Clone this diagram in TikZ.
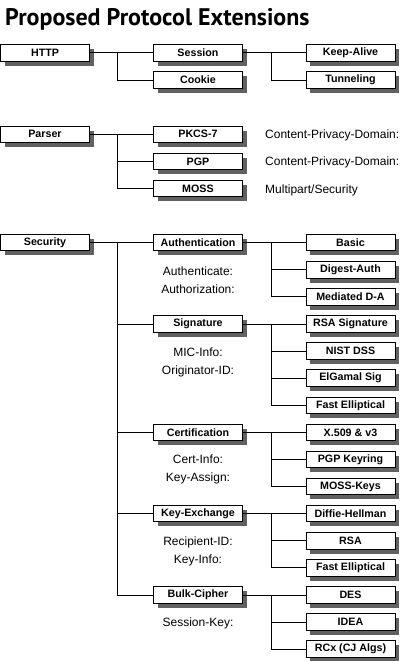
\documentclass[tikz,border=0pt]{standalone}
\usepackage{fontspec}
\setmainfont{Liberation Sans}
\newfontfamily\titlefont{PT Sans}
\usetikzlibrary{shadows}
\tikzset{
  box/.style={draw=black, fill=white, line width=1pt, minimum width=89pt,
    minimum height=16.5pt, inner sep=0pt,
    font=\bfseries\fontsize{10.7}{12}\selectfont,
    drop shadow={shadow xshift=4pt, shadow yshift=-4.5pt, fill=black!62, opacity=1}},
  note/.style={inner sep=0pt, font=\fontsize{12}{14}\selectfont},
  link/.style={line width=1pt},
}
\begin{document}
\begin{tikzpicture}[x=1pt,y=-1pt]
\useasboundingbox (0,0) rectangle (405,661);
\node[anchor=base west, inner sep=0pt, font=\titlefont\bfseries\fontsize{24}{29}\selectfont] (title) at (5,25.3) {Proposed Protocol Extensions};

% HTTP group
\node[box] (http) at (45,53) {HTTP};
\node[box] (session) at (198,53) {Session};
\node[box] (cookie) at (198,80.1) {Cookie};
\node[box] (keepalive) at (350.5,53) {Keep-Alive};
\node[box] (tunneling) at (350.5,80.1) {Tunneling};
\coordinate (bh) at (117,53);
\coordinate (bs) at (271,53);
\draw[link] (http.east) -- (session.west);
\draw[link] (bh) |- (cookie.west);
\draw[link] (session.east) -- (keepalive.west);
\draw[link] (bs) |- (tunneling.west);

% Parser group
\node[box] (parser) at (45,134.3) {Parser};
\node[box] (pkcs) at (198,134.3) {PKCS-7};
\node[box] (pgp) at (198,161.4) {PGP};
\node[box] (moss) at (198,188.5) {MOSS};
\coordinate (bp) at (117,134.3);
\draw[link] (parser.east) -- (pkcs.west);
\draw[link] (bp) |- (pgp.west);
\draw[link] (bp) |- (moss.west);
\node[note, anchor=base west] (cpd1) at (265,138.8) {Content-Privacy-Domain:};
\node[note, anchor=base west] (cpd2) at (265,165.9) {Content-Privacy-Domain:};
\node[note, anchor=base west] (mps) at (265,193) {Multipart/Security};

% Security group
\node[box] (security) at (45,242.7) {Security};
\node[box] (auth) at (198,242.7) {Authentication};
\node[box] (sig) at (198,324) {Signature};
\node[box] (cert) at (198,432.4) {Certification};
\node[box] (kex) at (198,513.7) {Key-Exchange};
\node[box] (bulk) at (198,595) {Bulk-Cipher};
\coordinate (bsec) at (117,242.7);
\draw[link] (security.east) -- (auth.west);
\draw[link] (bsec) |- (sig.west);
\draw[link] (bsec) |- (cert.west);
\draw[link] (bsec) |- (kex.west);
\draw[link] (bsec) |- (bulk.west);

% Authentication
\node[box] (basic) at (350.5,242.7) {Basic};
\node[box] (digest) at (350.5,269.8) {Digest-Auth};
\node[box] (mediated) at (350.5,296.9) {Mediated D-A};
\coordinate (ba) at (271,242.7);
\draw[link] (auth.east) -- (basic.west);
\draw[link] (ba) |- (digest.west);
\draw[link] (ba) |- (mediated.west);
\node[note, anchor=base] (na1) at (198,275.7) {Authenticate:};
\node[note, anchor=base] (na2) at (198,293.2) {Authorization:};

% Signature
\node[box] (rsasig) at (350.5,324) {RSA Signature};
\node[box] (nist) at (350.5,351.1) {NIST DSS};
\node[box] (elgamal) at (350.5,378.2) {ElGamal Sig};
\node[box] (fe1) at (350.5,405.3) {Fast Elliptical};
\coordinate (bsg) at (271,324);
\draw[link] (sig.east) -- (rsasig.west);
\draw[link] (bsg) |- (nist.west);
\draw[link] (bsg) |- (elgamal.west);
\draw[link] (bsg) |- (fe1.west);
\node[note, anchor=base] (ns1) at (198,356.8) {MIC-Info:};
\node[note, anchor=base] (ns2) at (198,374.5) {Originator-ID:};

% Certification
\node[box] (x509) at (350.5,432.4) {X.509 \& v3};
\node[box] (pgpk) at (350.5,459.5) {PGP Keyring};
\node[box] (mossk) at (350.5,486.6) {MOSS-Keys};
\coordinate (bc) at (271,432.4);
\draw[link] (cert.east) -- (x509.west);
\draw[link] (bc) |- (pgpk.west);
\draw[link] (bc) |- (mossk.west);
\node[note, anchor=base] (nc1) at (198,463.5) {Cert-Info:};
\node[note, anchor=base] (nc2) at (198,481) {Key-Assign:};

% Key-Exchange
\node[box] (dh) at (350.5,513.7) {Diffie-Hellman};
\node[box] (rsa) at (350.5,540.8) {RSA};
\node[box] (fe2) at (350.5,567.9) {Fast Elliptical};
\coordinate (bk) at (271,513.7);
\draw[link] (kex.east) -- (dh.west);
\draw[link] (bk) |- (rsa.west);
\draw[link] (bk) |- (fe2.west);
\node[note, anchor=base] (nk1) at (198,545.5) {Recipient-ID:};
\node[note, anchor=base] (nk2) at (198,563) {Key-Info:};

% Bulk-Cipher
\node[box] (des) at (350.5,595) {DES};
\node[box] (idea) at (350.5,622.1) {IDEA};
\node[box] (rcx) at (350.5,649.2) {RCx (CJ Algs)};
\coordinate (bb) at (271,595);
\draw[link] (bulk.east) -- (des.west);
\draw[link] (bb) |- (idea.west);
\draw[link] (bb) |- (rcx.west);
\node[note, anchor=base] (nb1) at (198,626.5) {Session-Key:};
\end{tikzpicture}
\end{document}
